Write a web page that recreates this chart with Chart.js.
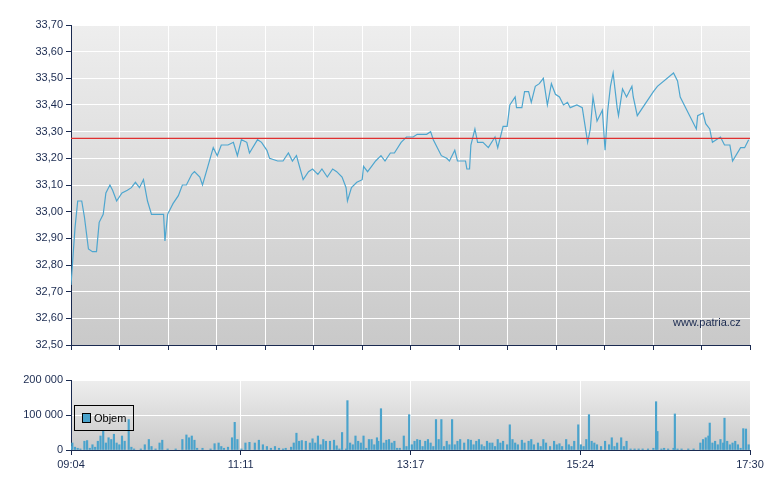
<!DOCTYPE html>
<html><head><meta charset="utf-8">
<script src="https://cdn.jsdelivr.net/npm/chart.js@4/dist/chart.umd.min.js"></script>
<style>
body{margin:0;background:#fff;width:780px;height:490px;position:relative;overflow:hidden;font-family:"Liberation Sans",Arial,sans-serif}
canvas{position:absolute;left:0}
#wm{position:absolute;left:673px;top:316px;font-size:11px;color:#1a2a50}
#lg{position:absolute;left:74px;top:405px;width:60px;height:26px;border:1px solid #000;box-sizing:border-box;font-size:11px;color:#000;line-height:24px}
#lg span{display:inline-block;width:7px;height:8px;background:#4aa3cc;border:1px solid #000;margin:0 3px 0 7px;vertical-align:-1px}
</style></head><body>
<canvas id="c1" style="top:0" width="780" height="360"></canvas>
<canvas id="c2" style="top:360px" width="780" height="130"></canvas>
<div id="wm">www.patria.cz</div>
<div id="lg"><span></span>Objem</div>
<script>
const timeLabels=["09:04","11:11","13:17","15:24","17:30"];
const sessionMinutes=506;
const refPrice=33.275;
const priceT=[0,3,5,8,10,13,16,19,21,24,26,29,31,34,38,42,45,48,51,54,57,60,69,70,72,76,80,83,86,90,92,96,98,102,106,109,112,117,121,124,127,131,133,139,142,146,148,154,158,162,165,168,173,177,180,184,187,191,195,198,202,205,206,209,213,217,218,221,224,227,231,234,238,241,246,250,255,258,265,268,270,273,276,280,282,286,288,294,295,297,298,301,303,307,311,316,318,322,325,327,331,332,336,338,341,343,346,349,352,355,358,361,364,367,370,372,377,381,385,387,389,392,396,398,400,402,404,407,408,411,414,418,419,422,434,437,449,452,454,466,467,471,473,476,478,484,487,491,493,499,502,505];
const priceV=[32.725,32.94,33.04,33.04,32.98,32.86,32.85,32.85,32.96,32.99,33.07,33.10,33.08,33.04,33.07,33.08,33.09,33.11,33.09,33.12,33.04,32.99,32.99,32.89,32.99,33.03,33.06,33.10,33.10,33.14,33.15,33.13,33.10,33.17,33.24,33.21,33.25,33.25,33.26,33.21,33.27,33.26,33.22,33.27,33.26,33.23,33.20,33.19,33.19,33.22,33.19,33.21,33.12,33.15,33.16,33.14,33.16,33.13,33.16,33.15,33.13,33.09,33.04,33.09,33.11,33.12,33.17,33.15,33.17,33.19,33.21,33.19,33.22,33.22,33.26,33.28,33.28,33.29,33.29,33.30,33.27,33.24,33.21,33.20,33.19,33.23,33.19,33.19,33.16,33.16,33.25,33.31,33.26,33.26,33.24,33.28,33.24,33.32,33.32,33.40,33.43,33.39,33.39,33.45,33.45,33.41,33.47,33.48,33.50,33.40,33.48,33.44,33.43,33.40,33.41,33.39,33.40,33.39,33.26,33.31,33.43,33.34,33.38,33.23,33.38,33.47,33.52,33.39,33.36,33.46,33.43,33.47,33.43,33.36,33.45,33.47,33.52,33.49,33.43,33.31,33.36,33.37,33.33,33.31,33.26,33.28,33.25,33.25,33.19,33.24,33.24,33.27];
const volT=[0,1,3,5,7,10,12,14,16,18,20,22,24,26,28,30,32,34,36,38,40,43,45,47,52,55,58,60,63,66,68,72,78,83,86,88,90,92,94,98,104,107,110,112,114,117,120,122,124,127,130,133,137,140,143,146,149,152,155,158,160,164,166,168,170,172,175,178,180,182,184,186,188,190,193,196,198,200,202,205,206,208,210,212,214,216,218,220,222,224,226,228,229,231,233,235,237,239,241,243,245,248,250,252,254,256,258,260,262,264,266,268,270,272,274,276,278,280,282,284,286,288,290,293,296,298,300,302,304,306,308,310,312,314,316,318,320,322,325,327,329,331,333,336,338,341,343,345,348,350,352,354,357,360,362,364,366,369,371,373,375,378,380,382,384,386,388,390,392,395,398,401,403,405,407,410,412,414,417,420,423,426,430,434,436,437,440,442,445,449,450,452,455,460,464,469,471,473,475,476,478,480,482,484,486,487,489,491,493,495,497,499,501,503,505];
const volV=[10,20,8,5,3,25,27,5,15,8,25,40,55,20,35,30,45,20,15,40,25,87,8,3,3,15,30,10,3,20,28,3,3,30,43,35,40,28,5,5,3,18,20,10,5,8,35,79,30,3,20,22,20,28,15,10,5,10,5,3,5,8,20,48,25,27,25,20,32,20,40,15,30,25,25,28,12,3,50,3,141,20,15,40,25,20,40,5,30,30,15,35,25,118,20,28,30,20,25,5,5,40,10,101,15,25,30,28,10,25,30,20,10,87,30,87,10,25,15,87,15,25,30,20,30,28,15,25,30,15,10,25,20,20,10,30,20,25,15,72,30,20,15,28,20,25,30,15,20,10,30,20,10,25,15,18,10,30,15,10,25,72,15,10,30,101,25,20,15,10,25,15,35,10,20,35,10,25,3,3,3,3,3,5,138,53,3,5,3,5,103,3,3,3,3,20,30,35,40,77,20,25,15,30,20,91,25,15,20,25,15,5,61,60,15].map(v=>v*1000);

const navy='#1a2a50';
const font={family:'"Liberation Sans", Arial, sans-serif',size:11};
const bg={id:'bg',beforeDraw(c){const a=c.chartArea,x=c.ctx;const g=x.createLinearGradient(0,a.top,0,a.bottom);g.addColorStop(0,'#eeeeee');g.addColorStop(1,'#c9c9c9');x.save();x.fillStyle=g;x.fillRect(a.left,a.top,a.right-a.left,a.bottom-a.top);x.restore();}};
const timeTicks=timeLabels.map((l,i)=>i*sessionMinutes/(timeLabels.length-1));

new Chart(document.getElementById('c1'),{
  type:'line',
  data:{datasets:[
    {data:[{x:0,y:refPrice},{x:sessionMinutes,y:refPrice}],borderColor:'#e03030',borderWidth:1.2,pointRadius:0},
    {data:priceT.map((t,i)=>({x:t,y:priceV[i]})),borderColor:'#4ea6cf',borderWidth:1.2,pointRadius:0,tension:0}
  ]},
  options:{responsive:false,animation:false,layout:{padding:{top:25,right:30,left:0,bottom:0}},
    plugins:{legend:{display:false},tooltip:{enabled:false}},
    scales:{
      x:{type:'linear',min:0,max:sessionMinutes,afterFit:s=>{s.height=15},
        afterBuildTicks:s=>{s.ticks=Array.from({length:15},(_,i)=>({value:i*sessionMinutes/14}))},
        ticks:{display:false},grid:{color:'#ffffff',tickColor:navy,tickLength:5,lineWidth:1},border:{color:navy}},
      y:{min:32.5,max:33.7,afterFit:s=>{s.width=71},
        ticks:{stepSize:0.1,color:navy,font,callback:v=>v.toFixed(2).replace('.',',')},
        grid:{color:'#ffffff',tickColor:navy,tickLength:5},border:{color:navy}}
    }},
  plugins:[bg]
});

new Chart(document.getElementById('c2'),{
  type:'bar',
  data:{datasets:[{data:volT.map((t,i)=>({x:t,y:volV[i]})),backgroundColor:'#4aa3cc',barThickness:1.5}]},
  options:{responsive:false,animation:false,layout:{padding:{top:20,right:30,left:0,bottom:0}},
    plugins:{legend:{display:false},tooltip:{enabled:false}},
    scales:{
      x:{type:'linear',min:0,max:sessionMinutes,offset:false,afterFit:s=>{s.height=40},
        afterBuildTicks:s=>{s.ticks=timeTicks.map(v=>({value:v}))},
        ticks:{color:navy,font,maxRotation:0,callback:(v,i)=>timeLabels[i]},
        grid:{color:'#ffffff',tickColor:navy,tickLength:5,offset:false},border:{color:navy}},
      y:{min:0,max:200000,afterFit:s=>{s.width=71},
        ticks:{stepSize:100000,color:navy,font,callback:v=>v===0?'0':String(v).replace(/\B(?=(\d{3})+(?!\d))/g,' ')},
        grid:{color:'#ffffff',tickColor:navy,tickLength:5},border:{color:navy}}
    }},
  plugins:[bg]
});
</script></body></html>
